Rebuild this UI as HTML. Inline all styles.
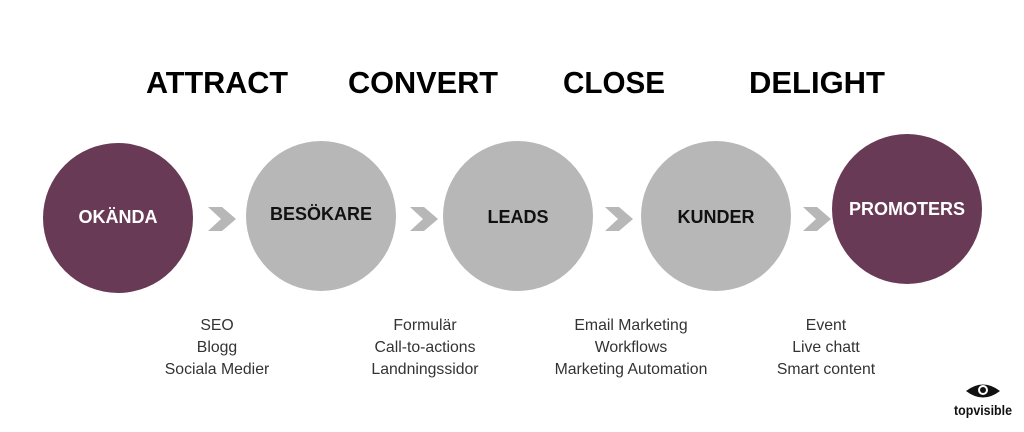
<!DOCTYPE html>
<html><head><meta charset="utf-8"><style>
html,body{margin:0;padding:0;background:#fff;width:1024px;height:432px;overflow:hidden}
</style></head><body>
<svg width="1024" height="432" viewBox="0 0 1024 432" xmlns="http://www.w3.org/2000/svg" font-family="Liberation Sans, DejaVu Sans, sans-serif">
<g font-weight="bold" font-size="31" fill="#000" text-anchor="middle">
<text x="217" y="93" textLength="142" lengthAdjust="spacingAndGlyphs">ATTRACT</text>
<text x="423" y="93" textLength="150" lengthAdjust="spacingAndGlyphs">CONVERT</text>
<text x="614" y="93" textLength="102" lengthAdjust="spacingAndGlyphs">CLOSE</text>
<text x="817" y="93" textLength="136" lengthAdjust="spacingAndGlyphs">DELIGHT</text>
</g>
<circle cx="118" cy="218" r="75" fill="#693a55"/>
<circle cx="321" cy="216" r="75" fill="#b7b7b8"/>
<circle cx="518" cy="216" r="75" fill="#b7b7b8"/>
<circle cx="716" cy="216" r="75" fill="#b7b7b8"/>
<circle cx="907" cy="209" r="75" fill="#693a55"/>
<g fill="#b7b7b8">
<polygon points="208,207 222,207 236,219 222,231 208,231 221,219"/>
<polygon points="410,207 424,207 438,219 424,231 410,231 423,219"/>
<polygon points="605,207 619,207 633,219 619,231 605,231 618,219"/>
<polygon points="803,207 817,207 831,219 817,231 803,231 816,219"/>
</g>
<g font-weight="bold" font-size="18" text-anchor="middle">
<text x="118" y="223" fill="#fff">OKÄNDA</text>
<text x="321" y="220" fill="#111">BESÖKARE</text>
<text x="518" y="223" fill="#111">LEADS</text>
<text x="716" y="223" fill="#111">KUNDER</text>
<text x="907" y="215" fill="#fff">PROMOTERS</text>
</g>
<g font-size="15.8" fill="#333" text-anchor="middle">
<text x="217" y="330">SEO</text><text x="217" y="352">Blogg</text><text x="217" y="374">Sociala Medier</text>
<text x="425" y="330">Formulär</text><text x="425" y="352">Call-to-actions</text><text x="425" y="374">Landningssidor</text>
<text x="631" y="330">Email Marketing</text><text x="631" y="352">Workflows</text><text x="631" y="374">Marketing Automation</text>
<text x="826" y="330">Event</text><text x="826" y="352">Live chatt</text><text x="826" y="374">Smart content</text>
</g>
<g>
<path d="M966,391 Q983,378 1000,391 Q983,404 966,391 Z" fill="#111"/>
<circle cx="983" cy="390" r="5" fill="#fff"/>
<circle cx="983" cy="390" r="3" fill="#111"/>
<text x="983" y="415" font-size="14" font-weight="bold" text-anchor="middle" fill="#111" textLength="58" lengthAdjust="spacingAndGlyphs">topvisible</text>
</g>
</svg>
</body></html>
